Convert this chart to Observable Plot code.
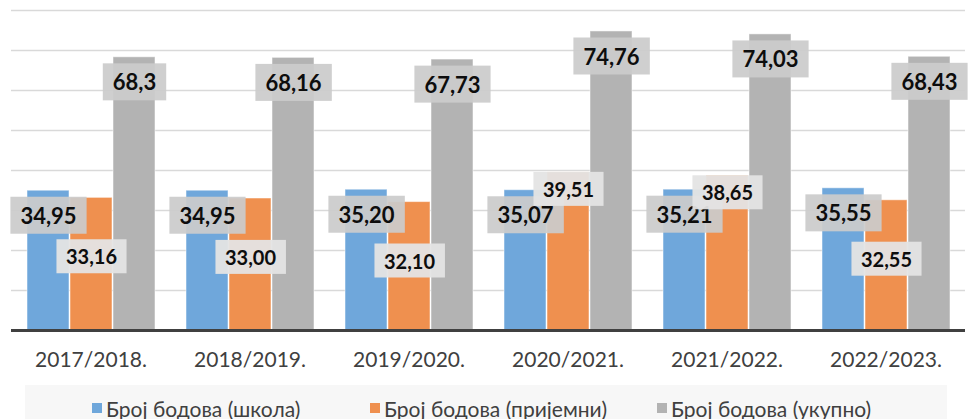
<!DOCTYPE html>
<html>
<head>
<meta charset="utf-8">
<script src="https://cdn.jsdelivr.net/npm/d3@7"></script>
<script src="https://cdn.jsdelivr.net/npm/@observablehq/plot@0.6"></script>
<style>
  body { margin: 0; background: #fff; font-family: Lato, "Noto Sans", sans-serif; }
  #wrap { width: 972px; position: relative; }
  #legend { position: relative; width: 972px; height: 34px; }
  #legend .bg { position: absolute; left: 25px; width: 922px; top: 0; height: 34px; background: #f7f7f7; }
  #legend .item { position: absolute; top: 11px; height: 24px; display: flex; align-items: center; font-size: 21px; color: #404040; white-space: nowrap; }
  #legend .sw { width: 10px; height: 10px; margin-right: 4px; display: inline-block; }
</style>
</head>
<body>
<div id="wrap"></div>
<script>
const years = ["2017/2018.", "2018/2019.", "2019/2020.", "2020/2021.", "2021/2022.", "2022/2023."];
const seriesNames = ["Број бодова (школа)", "Број бодова (пријемни)", "Број бодова (укупно)"];
const school = [34.95, 34.95, 35.20, 35.07, 35.21, 35.55];
const entrance = [33.16, 33.00, 32.10, 39.51, 38.65, 32.55];
const total = [68.3, 68.16, 67.73, 74.76, 74.03, 68.43];
const gridTicks = [10, 20, 30, 40, 50, 60, 70, 80];
const colors = ["#6fa7db", "#ef904f", "#b3b3b3"];

const fixed2 = v => v.toFixed(2).replace(".", ",");
const general = v => String(v).replace(".", ",");

const rows = [];
years.forEach((yr, i) => {
  rows.push({year: yr, series: seriesNames[0], value: school[i], label: fixed2(school[i]), other: entrance[i]});
  rows.push({year: yr, series: seriesNames[1], value: entrance[i], label: fixed2(entrance[i]), other: school[i]});
  rows.push({year: yr, series: seriesNames[2], value: total[i], label: general(total[i]), other: 0});
});
const sRows = rows.filter(d => d.series === seriesNames[0]);
const eRowsHigh = rows.filter(d => d.series === seriesNames[1] && d.value > d.other);
const eRowsLow = rows.filter(d => d.series === seriesNames[1] && d.value <= d.other);
const tRows = rows.filter(d => d.series === seriesNames[2]);

const common = {fx: "year", x: "series", y: "value", text: "label", fill: "#0d0d0d", fontWeight: "bold"};

const chart = Plot.plot({
  width: 972,
  height: 385,
  marginTop: 10,
  marginBottom: 55,
  marginLeft: 9,
  marginRight: 6,
  style: {fontFamily: "Lato, 'Noto Sans', sans-serif", background: "transparent"},
  fx: {domain: years, padding: 0, label: null},
  x: {domain: seriesNames, paddingInner: 0.025, paddingOuter: 0.34, axis: null},
  y: {domain: [0, 80], axis: null},
  color: {domain: seriesNames, range: colors},
  marks: [
    Plot.ruleY(gridTicks, {stroke: "#d9d9d9", strokeWidth: 1.5}),
    Plot.barY(rows, {fx: "year", x: "series", y: "value", fill: "series", stroke: "#ffffff", strokeOpacity: 0.5, strokeWidth: 1}),
    Plot.ruleY([0], {stroke: "#404040", strokeWidth: 3}),
    Plot.text(sRows, {...common, dy: 26, fontSize: 22}),
    Plot.text(eRowsLow, {...common, dy: 60, fontSize: 20}),
    Plot.text(eRowsHigh, {...common, dy: 18, fontSize: 20}),
    Plot.text(tRows, {...common, dy: 26, fontSize: 22}),
    Plot.axisFx({anchor: "bottom", tickSize: 0, tickPadding: 22, fontSize: 21, color: "#404040", label: null})
  ]
});
document.getElementById("wrap").appendChild(chart);

// label background boxes (Excel-style data label fill)
const ns = "http://www.w3.org/2000/svg";
function boxes(group, fill, opacity, padX, padY) {
  if (!group) return;
  group.querySelectorAll("text").forEach(t => {
    const b = t.getBBox();
    const r = document.createElementNS(ns, "rect");
    r.setAttribute("x", b.x - padX);
    r.setAttribute("y", b.y - padY);
    r.setAttribute("width", b.width + 2 * padX);
    r.setAttribute("height", b.height + 2 * padY);
    r.setAttribute("fill", fill);
    r.setAttribute("fill-opacity", opacity);
    const tr = t.getAttribute("transform");
    if (tr) r.setAttribute("transform", tr);
    t.parentNode.insertBefore(r, t);
  });
}
const textGroups = chart.querySelectorAll('g[aria-label="text"]');
boxes(textGroups[0], "#cbcbcb", 0.93, 10, 5);
boxes(textGroups[1], "#e4e4e4", 0.95, 9.5, 5);
boxes(textGroups[2], "#e4e4e4", 0.95, 9.5, 5);
boxes(textGroups[3], "#cbcbcb", 0.93, 10, 5);

// legend
const legend = document.createElement("div");
legend.id = "legend";
legend.innerHTML = '<div class="bg"></div>';
const lefts = [92, 370, 657];
seriesNames.forEach((s, i) => {
  const it = document.createElement("div");
  it.className = "item";
  it.style.left = lefts[i] + "px";
  it.innerHTML = `<span class="sw" style="background:${colors[i]}"></span><span>${s}</span>`;
  legend.appendChild(it);
});
document.getElementById("wrap").appendChild(legend);
</script>
</body>
</html>
